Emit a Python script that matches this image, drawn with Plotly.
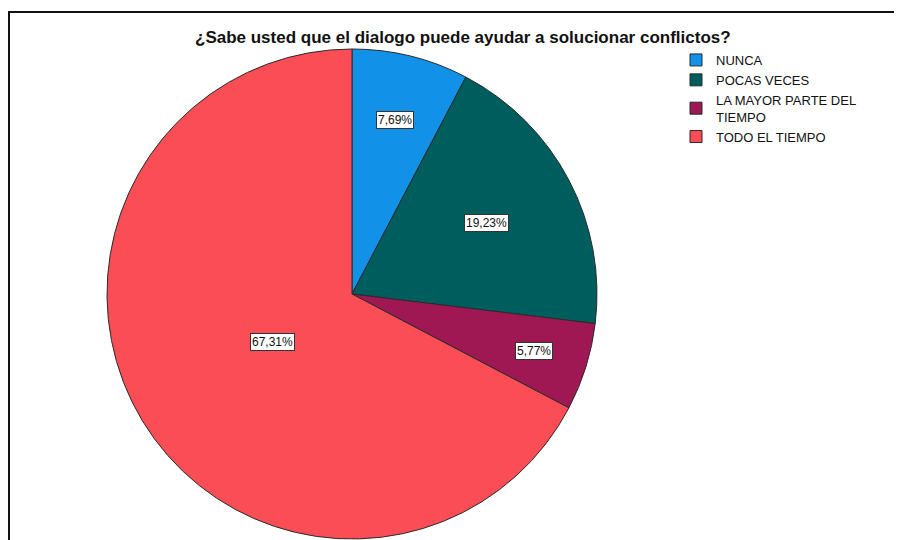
import math
import plotly.graph_objects as go

# data
categories = ["NUNCA", "POCAS VECES", "LA MAYOR PARTE DEL<br>TIEMPO", "TODO EL TIEMPO"]
counts = [4, 10, 3, 35]
colors = ["#1192e8", "#005d5d", "#9f1853", "#fa4d56"]
title_text = "¿Sabe usted que el dialogo puede ayudar a solucionar conflictos?"

# page body has an 8px margin, so size the figure to the visible area
OFF = 8
W, H = 902 - OFF, 540 - OFF
# pie placement in (figure) pixels
cx, cy, r = 352 - OFF, 294 - OFF, 245
label_frac = [0.73, 0.62, 0.78, 0.38]

total = sum(counts)
pcts = [c / total * 100 for c in counts]

fig = go.Figure(go.Pie(
    labels=categories,
    values=counts,
    sort=False,
    direction="clockwise",
    rotation=0,
    marker=dict(colors=colors, line=dict(color="#2b2b2b", width=1)),
    textinfo="none",
    hoverinfo="label+percent",
    domain=dict(x=[(cx - r) / W, (cx + r) / W], y=[max(0, 1 - (cy + r) / H), 1 - (cy - r) / H]),
))

# boxed percentage labels placed at each slice's middle angle
annotations = []
cum = 0
for p, f in zip(pcts, label_frac):
    mid = (cum + p / 2) / 100 * 2 * math.pi
    cum += p
    px = cx + r * f * math.sin(mid)
    py = cy - r * f * math.cos(mid)
    annotations.append(dict(
        x=px / W, y=1 - py / H, xref="paper", yref="paper",
        xanchor="center", yanchor="middle",
        text=f"{p:.2f}%".replace(".", ","), showarrow=False,
        font=dict(family="Liberation Sans, Arial", size=12, color="#111"),
        bgcolor="white", bordercolor="#333", borderwidth=1, borderpad=1,
    ))

annotations.append(dict(
    x=(463 - OFF) / W, y=1 - (38 - OFF) / H, xref="paper", yref="paper", showarrow=False,
    xanchor="center", yanchor="middle",
    text="<b>" + title_text + "</b>",
    font=dict(family="Liberation Sans, Arial", size=17, color="#111"),
))

fig.update_layout(
    width=W, height=H,
    margin=dict(l=0, r=0, t=0, b=0),
    paper_bgcolor="white",
    annotations=annotations,
    showlegend=True,
    legend=dict(
        x=(676 - OFF) / W, y=1 - (45 - OFF) / H, xanchor="left", yanchor="top",
        font=dict(family="Liberation Sans, Arial", size=13, color="#111"),
        tracegroupgap=0, itemwidth=30, bgcolor="rgba(0,0,0,0)",
    ),
    shapes=[dict(
        type="rect", xref="paper", yref="paper",
        x0=1 / W, x1=1.02, y0=-0.02, y1=1 - 4 / H,
        line=dict(color="#111", width=2),
    )],
)

fig.write_html("out.html")
